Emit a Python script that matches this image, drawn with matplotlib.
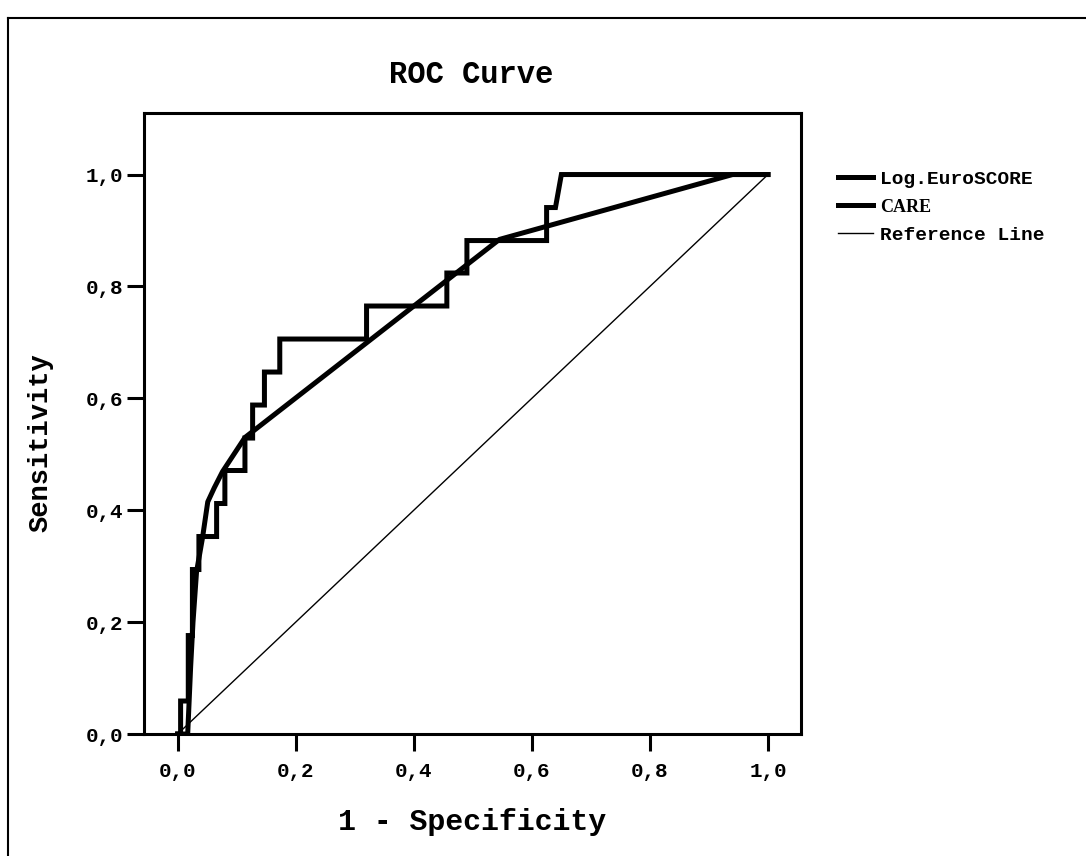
import matplotlib
matplotlib.use("Agg")
import matplotlib.pyplot as plt
from matplotlib.lines import Line2D

# Log.EuroSCORE ROC (step curve), 1 - specificity vs sensitivity
euro_fpr = [0.000, 0.005, 0.005, 0.018, 0.018, 0.025, 0.025, 0.036, 0.036, 0.040,
            0.040, 0.066, 0.066, 0.080, 0.080, 0.114, 0.114, 0.127, 0.127, 0.147,
            0.147, 0.173, 0.173, 0.320, 0.320, 0.456, 0.456, 0.490, 0.490, 0.625,
            0.625, 0.640, 0.650, 1.000]
euro_tpr = [0.000, 0.000, 0.059, 0.059, 0.176, 0.176, 0.294, 0.294, 0.353, 0.353,
            0.353, 0.353, 0.412, 0.412, 0.471, 0.471, 0.529, 0.529, 0.588, 0.588,
            0.647, 0.647, 0.706, 0.706, 0.765, 0.765, 0.824, 0.824, 0.882, 0.882,
            0.941, 0.941, 1.000, 1.000]

# CARE ROC
care_fpr = [0.000, 0.017, 0.022, 0.026, 0.032, 0.042, 0.051, 0.062, 0.076, 0.114,
            0.545, 0.940, 1.000]
care_tpr = [0.000, 0.000, 0.120, 0.200, 0.290, 0.350, 0.415, 0.440, 0.469, 0.530,
            0.884, 1.000, 1.000]

ref = [0.0, 1.0]
ticks = [0.0, 0.2, 0.4, 0.6, 0.8, 1.0]
tick_labels = ["0,0", "0,2", "0,4", "0,6", "0,8", "1,0"]

mono = "Liberation Mono"

fig = plt.figure(figsize=(10.86, 8.56), dpi=100)
ax = fig.add_axes([0.1326, 0.1425, 0.605, 0.7255])

ax.plot(euro_fpr, euro_tpr, color="black", linewidth=3.6,
        solid_joinstyle="miter", label="Log.EuroSCORE")
ax.plot(care_fpr, care_tpr, color="black", linewidth=3.6, label="CARE")
ax.plot(ref, ref, color="black", linewidth=1.0, label="Reference Line")

ax.set_xlim(-0.057, 1.056)
ax.set_ylim(0.0, 1.11)
ax.set_xticks(ticks)
ax.set_xticklabels(tick_labels)
ax.set_yticks(ticks)
ax.set_yticklabels(tick_labels)
ax.tick_params(axis="both", direction="out", length=12, width=2.2,
               labelsize=15, pad=8)
ax.tick_params(axis="y", pad=3)
for lab in ax.get_xticklabels() + ax.get_yticklabels():
    lab.set_family(mono)
    lab.set_weight("bold")
for s in ax.spines.values():
    s.set_linewidth(2.2)

ax.set_xlabel("1 - Specificity", family=mono, weight="bold", fontsize=21.5, va="center")
ax.xaxis.set_label_coords(0.5, -0.142)
ax.set_ylabel("Sensitivity", family=mono, weight="bold", fontsize=19.5, va="center")
ax.yaxis.set_label_coords(-0.158, 0.47)

fig.text(0.434, 0.912, "ROC Curve", family=mono, weight="bold", fontsize=22,
         ha="center", va="center")

leg = ax.legend(loc="upper left", bbox_to_anchor=(838 / 1086, (856 - 170) / 856),
                bbox_transform=fig.transFigure, frameon=False,
                prop={"family": mono, "weight": "bold", "size": 14},
                handlelength=1.8, handletextpad=0.35, labelspacing=0.55,
                borderaxespad=0, borderpad=0)
leg.get_texts()[1].set_family("Liberation Serif")
leg.get_texts()[1].set_fontsize(13)

# scanned outer frame
fig.add_artist(Line2D([8 / 1086, 8 / 1086], [0, (856 - 18) / 856],
                      transform=fig.transFigure, color="black", linewidth=1.5))
fig.add_artist(Line2D([8 / 1086, 1], [(856 - 18) / 856, (856 - 18) / 856],
                      transform=fig.transFigure, color="black", linewidth=1.5))

fig.savefig("out.png", dpi=100)
